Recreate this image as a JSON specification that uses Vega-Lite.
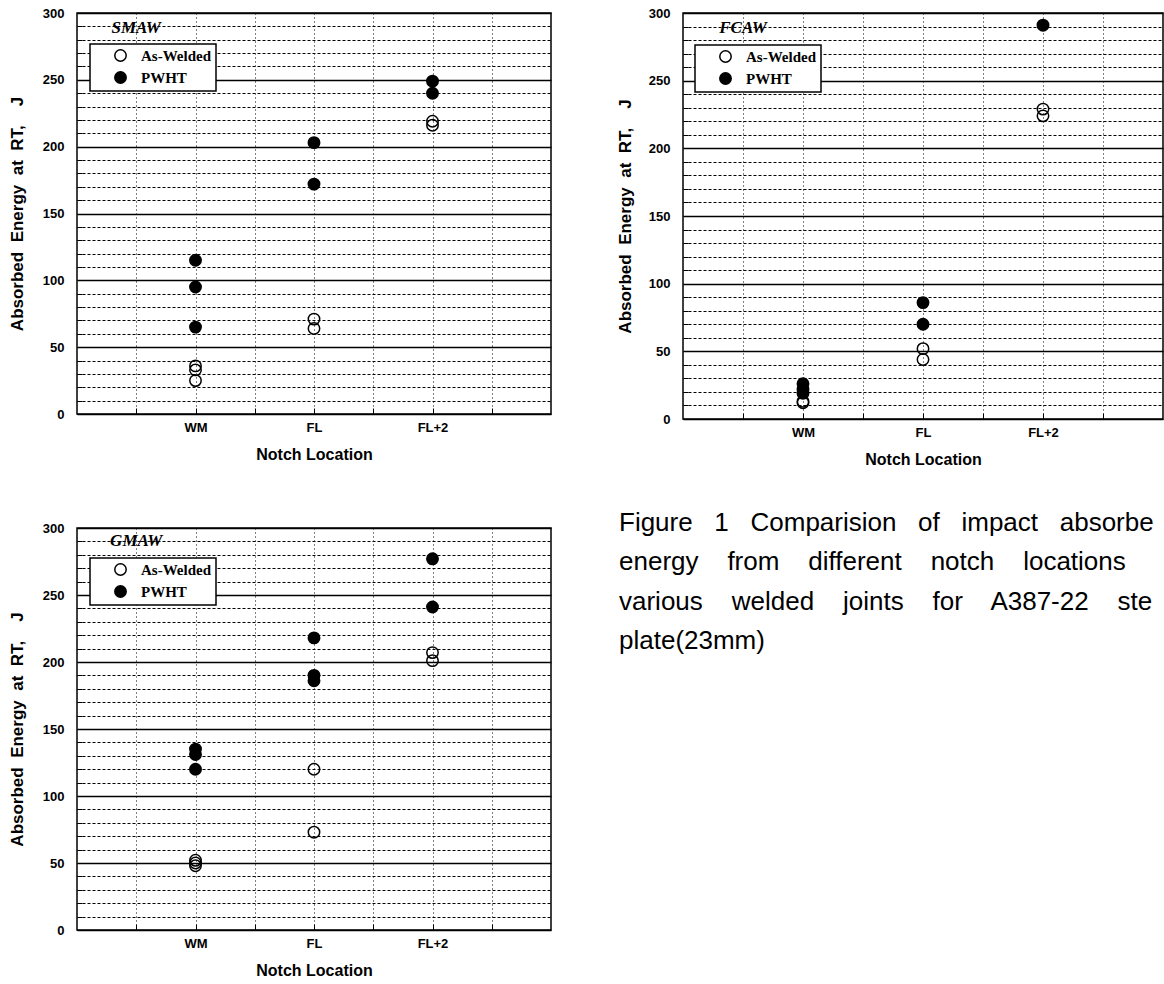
{
  "$schema": "https://vega.github.io/schema/vega-lite/v6.json",
  "background": "white",
  "padding": {"left": 7, "top": 6, "right": 0, "bottom": 0},
  "datasets": {
    "points": [
      {"weld": "SMAW", "loc": "WM", "condition": "As-Welded", "energy": 36},
      {"weld": "SMAW", "loc": "WM", "condition": "As-Welded", "energy": 33},
      {"weld": "SMAW", "loc": "WM", "condition": "As-Welded", "energy": 25},
      {"weld": "SMAW", "loc": "WM", "condition": "PWHT", "energy": 115},
      {"weld": "SMAW", "loc": "WM", "condition": "PWHT", "energy": 95},
      {"weld": "SMAW", "loc": "WM", "condition": "PWHT", "energy": 65},
      {"weld": "SMAW", "loc": "FL", "condition": "As-Welded", "energy": 71},
      {"weld": "SMAW", "loc": "FL", "condition": "As-Welded", "energy": 64},
      {"weld": "SMAW", "loc": "FL", "condition": "PWHT", "energy": 203},
      {"weld": "SMAW", "loc": "FL", "condition": "PWHT", "energy": 172},
      {"weld": "SMAW", "loc": "FL+2", "condition": "As-Welded", "energy": 219},
      {"weld": "SMAW", "loc": "FL+2", "condition": "As-Welded", "energy": 216},
      {"weld": "SMAW", "loc": "FL+2", "condition": "PWHT", "energy": 249},
      {"weld": "SMAW", "loc": "FL+2", "condition": "PWHT", "energy": 240},
      {"weld": "FCAW", "loc": "WM", "condition": "As-Welded", "energy": 13},
      {"weld": "FCAW", "loc": "WM", "condition": "As-Welded", "energy": 12},
      {"weld": "FCAW", "loc": "WM", "condition": "PWHT", "energy": 26},
      {"weld": "FCAW", "loc": "WM", "condition": "PWHT", "energy": 22},
      {"weld": "FCAW", "loc": "WM", "condition": "PWHT", "energy": 19},
      {"weld": "FCAW", "loc": "FL", "condition": "As-Welded", "energy": 52},
      {"weld": "FCAW", "loc": "FL", "condition": "As-Welded", "energy": 44},
      {"weld": "FCAW", "loc": "FL", "condition": "PWHT", "energy": 86},
      {"weld": "FCAW", "loc": "FL", "condition": "PWHT", "energy": 70},
      {"weld": "FCAW", "loc": "FL+2", "condition": "As-Welded", "energy": 229},
      {"weld": "FCAW", "loc": "FL+2", "condition": "As-Welded", "energy": 224},
      {"weld": "FCAW", "loc": "FL+2", "condition": "PWHT", "energy": 291},
      {"weld": "GMAW", "loc": "WM", "condition": "As-Welded", "energy": 52},
      {"weld": "GMAW", "loc": "WM", "condition": "As-Welded", "energy": 50},
      {"weld": "GMAW", "loc": "WM", "condition": "As-Welded", "energy": 48},
      {"weld": "GMAW", "loc": "WM", "condition": "PWHT", "energy": 135},
      {"weld": "GMAW", "loc": "WM", "condition": "PWHT", "energy": 131},
      {"weld": "GMAW", "loc": "WM", "condition": "PWHT", "energy": 120},
      {"weld": "GMAW", "loc": "FL", "condition": "As-Welded", "energy": 120},
      {"weld": "GMAW", "loc": "FL", "condition": "As-Welded", "energy": 73},
      {"weld": "GMAW", "loc": "FL", "condition": "PWHT", "energy": 218},
      {"weld": "GMAW", "loc": "FL", "condition": "PWHT", "energy": 190},
      {"weld": "GMAW", "loc": "FL", "condition": "PWHT", "energy": 186},
      {"weld": "GMAW", "loc": "FL+2", "condition": "As-Welded", "energy": 207},
      {"weld": "GMAW", "loc": "FL+2", "condition": "As-Welded", "energy": 201},
      {"weld": "GMAW", "loc": "FL+2", "condition": "PWHT", "energy": 277},
      {"weld": "GMAW", "loc": "FL+2", "condition": "PWHT", "energy": 241}
    ],
    "caption": [
      {"line": 1, "text": "Figure\u00a0\u00a0 1\u00a0\u00a0 Comparision\u00a0\u00a0 of\u00a0\u00a0 impact\u00a0\u00a0 absorbed"},
      {"line": 2, "text": "energy\u00a0\u00a0\u00a0 from\u00a0\u00a0\u00a0 different\u00a0\u00a0\u00a0 notch\u00a0\u00a0\u00a0 locations\u00a0\u00a0\u00a0 of"},
      {"line": 3, "text": "various\u00a0\u00a0\u00a0 welded\u00a0\u00a0\u00a0 joints\u00a0\u00a0\u00a0 for\u00a0\u00a0\u00a0 A387-22\u00a0\u00a0\u00a0 steel"},
      {"line": 4, "text": "plate(23mm)"}
    ]
  },
  "config": {
    "view": {"stroke": "black", "strokeWidth": 1.5},
    "axis": {
      "labelFont": "Liberation Sans", "labelFontWeight": "bold", "labelFontSize": 13, "labelColor": "black",
      "titleFont": "Liberation Sans", "titleFontWeight": "bold", "titleFontSize": 16, "titleColor": "black",
      "domain": false, "tickColor": "black", "gridColor": "black", "gridOpacity": 1, "labelOverlap": false
    },
    "axisY": {"titleFontSize": 17},
    "legend": {
      "padding": 4, "strokeColor": "black", "strokeWidth": 1.5, "fillColor": "white", "cornerRadius": 0,
      "symbolType": "circle", "symbolSize": 130, "symbolStrokeColor": "black", "symbolStrokeWidth": 1.5,
      "symbolOffset": 19, "labelOffset": 13, "labelFont": "Liberation Serif", "labelFontWeight": "bold",
      "labelFontSize": 15, "labelColor": "black", "rowPadding": 3
    }
  },
  "spacing": 63,
  "resolve": {"scale": {"fill": "independent"}, "legend": {"fill": "independent"}},
  "hconcat": [
    {
      "spacing": 58,
      "resolve": {"scale": {"fill": "independent"}, "legend": {"fill": "independent"}},
      "vconcat": [
        {
          "width": 474, "height": 401,
          "layer": [
            {
              "data": {"name": "points"},
              "transform": [{"filter": "datum.weld === 'SMAW'"}],
              "mark": {"type": "point", "shape": "circle", "size": 130, "filled": true, "stroke": "black", "strokeWidth": 1.5, "opacity": 1},
              "encoding": {
                "x": {"field": "loc", "type": "nominal", "scale": {"type": "point", "domain": ["_1", "WM", "_3", "FL", "_5", "FL+2", "_7"], "padding": 1},
                  "axis": {"title": "Notch Location", "labelExpr": "indexof(['WM','FL','FL+2'], datum.value) >= 0 ? datum.value : ''", "labelAngle": 0, "grid": true, "gridDash": [1, 3], "gridWidth": 1, "ticks": true, "tickSize": -6, "tickWidth": 1, "labelPadding": 13, "titlePadding": 12}},
                "y": {"field": "energy", "type": "quantitative", "scale": {"domain": [0, 300], "nice": false},
                  "axis": {"title": "Absorbed\u00a0 Energy\u00a0 at\u00a0 RT,\u00a0\u00a0\u00a0 J", "values": [0,10,20,30,40,50,60,70,80,90,100,110,120,130,140,150,160,170,180,190,200,210,220,230,240,250,260,270,280,290,300], "tickCount": 40, "labelExpr": "datum.value % 50 === 0 ? datum.label : ''", "grid": true, "gridDash": {"condition": {"test": "datum.value % 50 === 0", "value": []}, "value": [3, 2]}, "gridWidth": {"condition": {"test": "datum.value % 50 === 0", "value": 1.5}, "value": 1}, "tickSize": -5, "labelPadding": 18, "titlePadding": 16}},
                "fill": {"field": "condition", "type": "nominal", "scale": {"domain": ["As-Welded", "PWHT"], "range": ["transparent", "black"]},
                  "legend": {"title": null, "orient": "none", "legendX": 13, "legendY": 31}}
              }
            },
            {
              "data": {"values": [{"name": "SMAW"}]},
              "mark": {"type": "text", "font": "Liberation Serif", "fontStyle": "italic", "fontWeight": "bold", "fontSize": 17, "baseline": "middle", "color": "black"},
              "encoding": {"x": {"datum": "_1"}, "y": {"datum": 289}, "text": {"field": "name"}}
            }
          ]
        },
        {
          "width": 474, "height": 402,
          "layer": [
            {
              "data": {"name": "points"},
              "transform": [{"filter": "datum.weld === 'GMAW'"}],
              "mark": {"type": "point", "shape": "circle", "size": 130, "filled": true, "stroke": "black", "strokeWidth": 1.5, "opacity": 1},
              "encoding": {
                "x": {"field": "loc", "type": "nominal", "scale": {"type": "point", "domain": ["_1", "WM", "_3", "FL", "_5", "FL+2", "_7"], "padding": 1},
                  "axis": {"title": "Notch Location", "labelExpr": "indexof(['WM','FL','FL+2'], datum.value) >= 0 ? datum.value : ''", "labelAngle": 0, "grid": true, "gridDash": [1, 3], "gridWidth": 1, "ticks": true, "tickSize": -6, "tickWidth": 1, "labelPadding": 13, "titlePadding": 12}},
                "y": {"field": "energy", "type": "quantitative", "scale": {"domain": [0, 300], "nice": false},
                  "axis": {"title": "Absorbed\u00a0 Energy\u00a0 at\u00a0 RT,\u00a0\u00a0\u00a0 J", "values": [0,10,20,30,40,50,60,70,80,90,100,110,120,130,140,150,160,170,180,190,200,210,220,230,240,250,260,270,280,290,300], "tickCount": 40, "labelExpr": "datum.value % 50 === 0 ? datum.label : ''", "grid": true, "gridDash": {"condition": {"test": "datum.value % 50 === 0", "value": []}, "value": [3, 2]}, "gridWidth": {"condition": {"test": "datum.value % 50 === 0", "value": 1.5}, "value": 1}, "tickSize": -5, "labelPadding": 18, "titlePadding": 16}},
                "fill": {"field": "condition", "type": "nominal", "scale": {"domain": ["As-Welded", "PWHT"], "range": ["transparent", "black"]},
                  "legend": {"title": null, "orient": "none", "legendX": 13, "legendY": 30}}
              }
            },
            {
              "data": {"values": [{"name": "GMAW"}]},
              "mark": {"type": "text", "font": "Liberation Serif", "fontStyle": "italic", "fontWeight": "bold", "fontSize": 17, "baseline": "middle", "color": "black"},
              "encoding": {"x": {"datum": "_1"}, "y": {"datum": 290}, "text": {"field": "name"}}
            }
          ]
        }
      ]
    },
    {
      "spacing": 37,
      "resolve": {"scale": {"fill": "independent"}, "legend": {"fill": "independent"}},
      "vconcat": [
        {
          "width": 480, "height": 406,
          "layer": [
            {
              "data": {"name": "points"},
              "transform": [{"filter": "datum.weld === 'FCAW'"}],
              "mark": {"type": "point", "shape": "circle", "size": 130, "filled": true, "stroke": "black", "strokeWidth": 1.5, "opacity": 1},
              "encoding": {
                "x": {"field": "loc", "type": "nominal", "scale": {"type": "point", "domain": ["_1", "WM", "_3", "FL", "_5", "FL+2", "_7"], "padding": 1},
                  "axis": {"title": "Notch Location", "labelExpr": "indexof(['WM','FL','FL+2'], datum.value) >= 0 ? datum.value : ''", "labelAngle": 0, "grid": true, "gridDash": [1, 3], "gridWidth": 1, "ticks": true, "tickSize": -6, "tickWidth": 1, "labelPadding": 13, "titlePadding": 12}},
                "y": {"field": "energy", "type": "quantitative", "scale": {"domain": [0, 300], "nice": false},
                  "axis": {"title": "Absorbed\u00a0 Energy\u00a0 at\u00a0 RT,\u00a0\u00a0\u00a0 J", "values": [0,10,20,30,40,50,60,70,80,90,100,110,120,130,140,150,160,170,180,190,200,210,220,230,240,250,260,270,280,290,300], "tickCount": 40, "labelExpr": "datum.value % 50 === 0 ? datum.label : ''", "grid": true, "gridDash": {"condition": {"test": "datum.value % 50 === 0", "value": []}, "value": [3, 2]}, "gridWidth": {"condition": {"test": "datum.value % 50 === 0", "value": 1.5}, "value": 1}, "tickSize": -5, "labelPadding": 18, "titlePadding": 14}},
                "fill": {"field": "condition", "type": "nominal", "scale": {"domain": ["As-Welded", "PWHT"], "range": ["transparent", "black"]},
                  "legend": {"title": null, "orient": "none", "legendX": 12, "legendY": 32}}
              }
            },
            {
              "data": {"values": [{"name": "FCAW"}]},
              "mark": {"type": "text", "font": "Liberation Serif", "fontStyle": "italic", "fontWeight": "bold", "fontSize": 17, "baseline": "middle", "color": "black"},
              "encoding": {"x": {"datum": "_1"}, "y": {"datum": 289}, "text": {"field": "name"}}
            }
          ]
        },
        {
          "width": 480, "height": 170,
          "view": {"stroke": null},
          "data": {"name": "caption"},
          "mark": {"type": "text", "font": "Liberation Sans", "fontSize": 26, "align": "left", "baseline": "alphabetic", "color": "black", "limit": 544, "ellipsis": "\u200b"},
          "encoding": {
            "x": {"value": -64},
            "y": {"field": "line", "type": "ordinal", "scale": {"type": "point", "padding": 0.65}, "axis": null},
            "text": {"field": "text"}
          }
        }
      ]
    }
  ]
}
